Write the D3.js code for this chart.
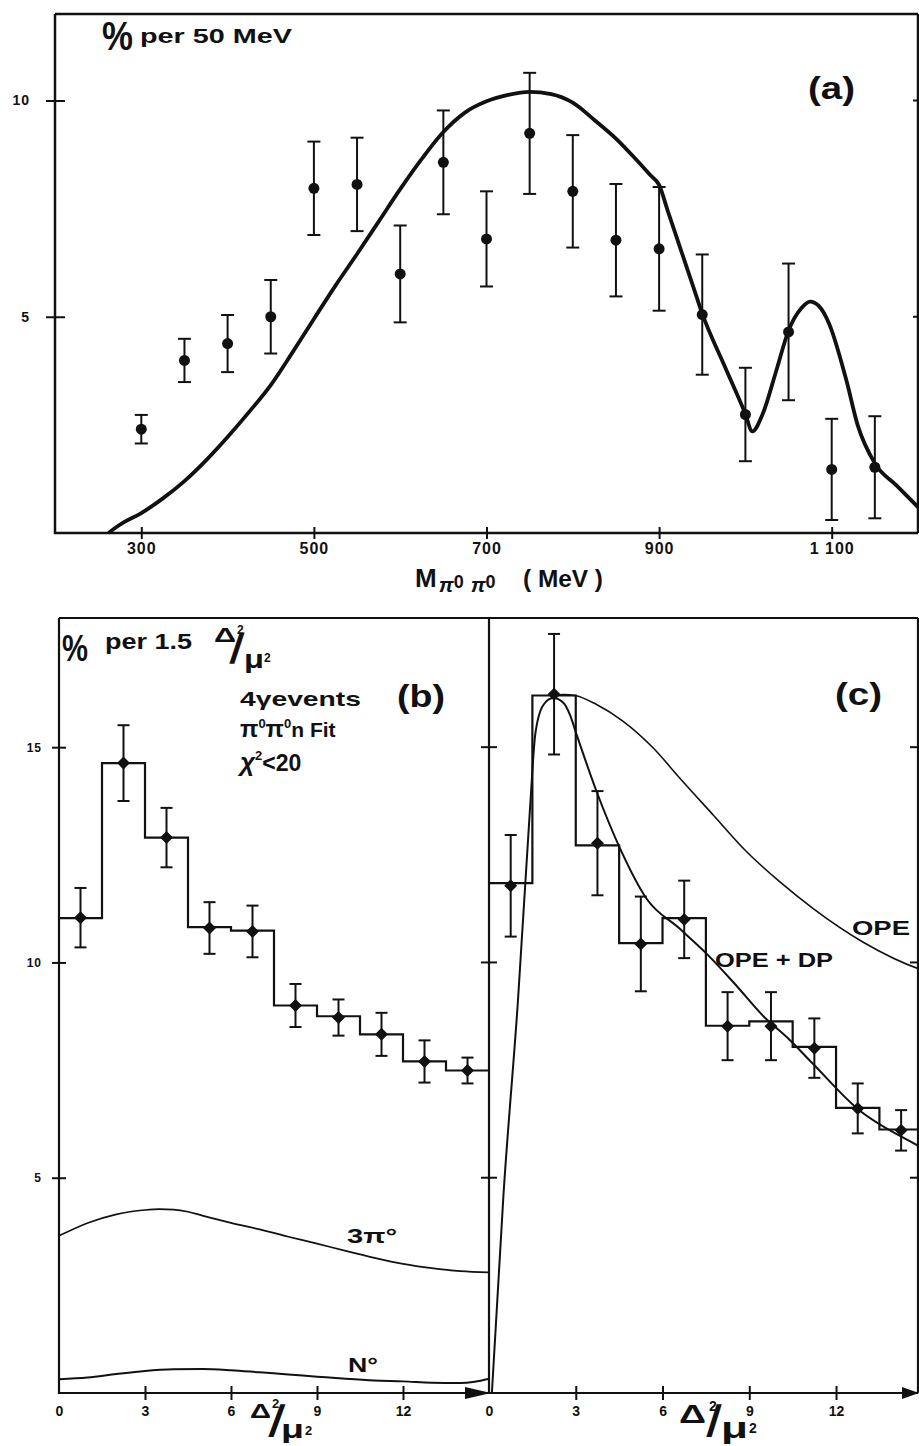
<!DOCTYPE html>
<html><head><meta charset="utf-8">
<script src="https://cdn.jsdelivr.net/npm/d3@7"></script>
<style>
body{margin:0;background:#fff}
svg{display:block}
text{font-family:"Liberation Sans",Arial,sans-serif;font-weight:bold;fill:#111}
</style></head><body>
<svg id="chart" width="919" height="1446"></svg>
<script>
// ---------------- Panel (a): M(pi0 pi0) spectrum ----------------
const massX   = [300,350,400,450,500,550,600,650,700,750,800,850,900,950,1000,1050,1100,1150];
const massPct = [2.40,3.99,4.38,5.00,7.97,8.06,5.99,8.57,6.80,9.24,7.90,6.77,6.57,5.05,2.74,4.65,1.47,1.52];
const massErr = [0.33,0.50,0.66,0.85,1.08,1.08,1.12,1.20,1.10,1.40,1.30,1.30,1.43,1.39,1.08,1.58,1.17,1.18];
const fitMassX = [262,270,280,300,325,350,375,400,425,450,475,500,525,550,575,600,625,650,675,700,725,750,775,800,825,850,875,890,900,910,925,940,950,975,1000,1008,1020,1035,1050,1065,1075,1085,1097,1117,1130,1150,1175,1200];
const fitMassY = [0,0.12,0.25,0.46,0.8,1.2,1.68,2.22,2.8,3.42,4.17,4.95,5.72,6.45,7.2,7.95,8.65,9.27,9.72,9.98,10.13,10.2,10.15,9.95,9.55,9.12,8.6,8.27,8.05,7.45,6.56,5.67,5.07,3.9,2.75,2.35,2.75,3.7,4.68,5.2,5.35,5.25,4.84,3.53,2.5,1.61,1.1,0.6];
const massTicks = [300,500,700,900,1100];
const massTickLabels = ["300","500","700","900","1 100"];
const pctTicksA = [5,10];

// ---------------- Panels (b),(c): Delta^2/mu^2 ----------------
const binEdges = [0,1.5,3,4.5,6,7.5,9,10.5,12,13.5,15];
const binMid   = [0.75,2.25,3.75,5.25,6.75,8.25,9.75,11.25,12.75,14.25];
const histB = [11.03,14.63,12.90,10.82,10.74,9.00,8.75,8.33,7.70,7.49];
const ptsB  = [11.04,14.63,12.90,10.80,10.72,9.00,8.72,8.33,7.70,7.49];
const errB  = [0.69,0.88,0.69,0.60,0.60,0.50,0.42,0.50,0.49,0.30];
const threePiX = [0,1,2,3,3.5,4,4.5,5,6,7,8,9,10,11,12,13,14,15];
const threePiY = [3.65,3.95,4.15,4.25,4.27,4.26,4.21,4.12,3.95,3.8,3.63,3.47,3.3,3.14,3.0,2.9,2.83,2.8];
const nStarX = [0,1,2,3,4,5,6,7,8,9,10,11,12,13,14,14.5,15];
const nStarY = [0.32,0.36,0.44,0.51,0.55,0.56,0.53,0.48,0.43,0.38,0.33,0.29,0.27,0.24,0.23,0.26,0.33];

const histC = [11.84,16.20,12.72,10.45,11.03,8.53,8.63,8.04,6.62,6.12];
const ptsC  = [11.78,16.23,12.77,10.43,11.00,8.52,8.52,8.01,6.61,6.10];
const errC  = [1.18,1.40,1.21,1.10,0.90,0.79,0.79,0.69,0.58,0.47];
const opeX = [2.22,2.6,2.97,3.72,4.64,5.68,6.6,7.76,8.91,10.06,11.21,12.94,14.87,15];
const opeY = [16.2,16.22,16.2,15.99,15.6,14.98,14.28,13.42,12.57,11.87,11.25,10.47,9.85,9.82];
const opeDpX = [0.1,0.5,1.0,1.42,1.6,1.88,2.22,2.57,2.8,3.03,3.72,4.53,5.45,6.6,7.53,8.45,9.49,10.4,11.21,12.71,14.87,15];
const opeDpY = [0,4.6,9.1,13.6,15.3,15.98,16.14,16.03,15.75,15.29,13.97,12.65,11.48,10.78,10.2,9.54,8.75,8.2,7.64,6.62,5.73,5.68];
const tTicks = [0,3,6,9,12];
const pctTicksBC = [5,10,15];

// ---------------- drawing ----------------
const INK = "#111";
const svg = d3.select("#chart");

const xA = d3.scaleLinear().domain([200,1200]).range([55,918]);
const yA = d3.scaleLinear().domain([0,12]).range([533,14]);
const xB = d3.scaleLinear().domain([0,15]).range([59,489]);
const xC = d3.scaleLinear().domain([0,15]).range([489,922.8]);
const yBC = d3.scaleLinear().domain([0,18]).range([1393,618]);

function txt(g, x, y, s, size, extra) {
  const t = g.append("text").attr("x", x).attr("y", y).attr("font-size", size).text(s);
  if (extra) Object.entries(extra).forEach(([k,v]) => t.attr(k, v));
  return t;
}
const fit = w => ({"textLength": w, "lengthAdjust": "spacingAndGlyphs"});
function slash(g, x, y, size, skew) {
  return g.append("text").attr("transform",`translate(${x},${y}) skewX(${-skew})`)
    .attr("font-family","DejaVu Sans").attr("font-weight","normal").attr("font-size",size).text("/");
}
function errBars(g, xs, ys, es, xs_, ys_, cap, sw) {
  const grp = g.append("g").attr("stroke", INK).attr("stroke-width", sw);
  xs.forEach((xv,i) => {
    const x = xs_(xv), y1 = ys_(ys[i]-es[i]), y2 = ys_(ys[i]+es[i]);
    grp.append("line").attr("x1",x).attr("x2",x).attr("y1",y1).attr("y2",y2);
    grp.append("line").attr("x1",x-cap).attr("x2",x+cap).attr("y1",y1).attr("y2",y1);
    grp.append("line").attr("x1",x-cap).attr("x2",x+cap).attr("y1",y2).attr("y2",y2);
  });
}

// ===== Panel (a)
const gA = svg.append("g");
gA.append("path")
  .attr("d", `M${xA(200)},${yA(12)}H${xA(1200)}M${xA(200)},${yA(12)}V${yA(0)}H${xA(1200)}M${xA(1200)},${yA(12)}V${yA(0)}`)
  .attr("fill","none").attr("stroke",INK).attr("stroke-width",2.5);

const axAx = d3.axisBottom(xA).tickValues(massTicks).tickFormat((d,i)=>massTickLabels[i])
  .tickSizeInner(6).tickSizeOuter(0).tickPadding(4);
gA.append("g").attr("transform",`translate(0,${yA(0)})`).call(axAx)
  .call(g=>{g.select(".domain").remove();
    g.attr("font-family",null).attr("font-size",16);
    g.selectAll(".tick line").attr("y1",-6).attr("y2",6).attr("stroke",INK).attr("stroke-width",2);
    g.selectAll(".tick text").attr("fill",INK).attr("letter-spacing",1);});
const axAy = d3.axisLeft(yA).tickValues(pctTicksA).tickSizeInner(9).tickSizeOuter(0).tickPadding(16);
gA.append("g").attr("transform",`translate(${xA(200)},0)`).call(axAy)
  .call(g=>{g.select(".domain").remove();
    g.attr("font-family",null).attr("font-size",14);
    g.selectAll(".tick line").attr("x1",-9).attr("x2",10).attr("stroke",INK).attr("stroke-width",2);
    g.selectAll(".tick text").attr("fill",INK).attr("letter-spacing",1);});
gA.append("g").selectAll("line").data(pctTicksA).join("line")
  .attr("x1",xA(1200)-5).attr("x2",xA(1200)).attr("y1",d=>yA(d)).attr("y2",d=>yA(d))
  .attr("stroke",INK).attr("stroke-width",2);

const lineA = d3.line().x((d,i)=>xA(fitMassX[i])).y(d=>yA(d)).curve(d3.curveMonotoneX);
gA.append("path").datum(fitMassY).attr("d",lineA).attr("fill","none").attr("stroke",INK)
  .attr("stroke-width",3.8).attr("stroke-linejoin","round");

errBars(gA, massX, massPct, massErr, xA, yA, 6.5, 2);
gA.append("g").selectAll("circle").data(massPct).join("circle")
  .attr("cx",(d,i)=>xA(massX[i])).attr("cy",d=>yA(d)).attr("r",5.5).attr("fill",INK);

txt(gA, 102, 50, "%", 40, Object.assign({"font-weight":"normal"}, fit(31)));
txt(gA, 140, 43, "per 50 MeV", 20, fit(152));
txt(gA, 808, 99, "(a)", 31, fit(47));
const tM = txt(gA, 415, 587, "M", 26, {});
tM.append("tspan").attr("font-size",21).attr("font-style","italic").attr("dy",5).attr("dx",2).text("π");
tM.append("tspan").attr("font-size",18).attr("dy",-4).text("0");
tM.append("tspan").attr("font-size",21).attr("font-style","italic").attr("dy",4).attr("dx",7).text("π");
tM.append("tspan").attr("font-size",18).attr("dy",-4).text("0");
txt(gA, 523, 587, "( MeV )", 24, fit(80));

// ===== Panels (b) and (c) frames
const gB = svg.append("g");
gB.append("path")
  .attr("d", `M${xB(0)},${yBC(18)}H918M${xB(0)},${yBC(18)}V${yBC(0)}H${xB(15)}M${xC(0)},${yBC(18)}V${yBC(0)}H918M918,${yBC(18)}V${yBC(0)}`)
  .attr("fill","none").attr("stroke",INK).attr("stroke-width",2.2);
gB.append("path").attr("d",`M${xB(15)-24},${yBC(0)-6}L${xB(15)+2},${yBC(0)}L${xB(15)-24},${yBC(0)+6}Z`).attr("fill",INK);
gB.append("path").attr("d",`M${919-17},${yBC(0)-6}L919,${yBC(0)}L${919-17},${yBC(0)+6}Z`).attr("fill",INK);

function xAxisT(g, sc) {
  const ax = d3.axisBottom(sc).tickValues(tTicks).tickSizeInner(7).tickSizeOuter(0).tickPadding(6);
  g.append("g").attr("transform",`translate(0,${yBC(0)})`).call(ax)
    .call(g=>{g.select(".domain").remove();
      g.attr("font-family",null).attr("font-size",14);
      g.selectAll(".tick line").attr("y1",d=>d===0?0:-7).attr("y2",d=>d===0?0:7).attr("stroke",INK).attr("stroke-width",2);
      g.selectAll(".tick text").attr("fill",INK);});
}
xAxisT(gB, xB); xAxisT(gB, xC);
const axBy = d3.axisLeft(yBC).tickValues(pctTicksBC).tickSizeInner(7).tickSizeOuter(0).tickPadding(10);
gB.append("g").attr("transform",`translate(${xB(0)},0)`).call(axBy)
  .call(g=>{g.select(".domain").remove();
    g.attr("font-family",null).attr("font-size",12);
    g.selectAll(".tick line").attr("x1",-7).attr("x2",7).attr("stroke",INK).attr("stroke-width",2);
    g.selectAll(".tick text").attr("fill",INK).attr("letter-spacing",1);});
[[xB(15)-8,xB(15)],[xC(0),xC(0)+8],[910,918]].forEach(([a,b])=>{
  gB.append("g").selectAll("line").data(pctTicksBC).join("line")
    .attr("x1",a).attr("x2",b).attr("y1",d=>yBC(d)).attr("y2",d=>yBC(d))
    .attr("stroke",INK).attr("stroke-width",2);
});

function histo(g, sc, vals) {
  const pts = vals.map((v,i)=>[binEdges[i],v]).concat([[15, vals[vals.length-1]]]);
  const ln = d3.line().x(d=>sc(d[0])).y(d=>yBC(d[1])).curve(d3.curveStepAfter);
  g.append("path").datum(pts).attr("d",ln).attr("fill","none").attr("stroke",INK).attr("stroke-width",2.2);
}
function curve(g, sc, xs, ys, w) {
  const ln = d3.line().x((d,i)=>sc(xs[i])).y(d=>yBC(d)).curve(d3.curveMonotoneX);
  g.append("path").datum(ys).attr("d",ln).attr("fill","none").attr("stroke",INK).attr("stroke-width",w);
}
function diamonds(g, sc, ys) {
  g.append("g").selectAll("path").data(ys).join("path")
    .attr("d",(d,i)=>{const x=sc(binMid[i]), y=yBC(d), r=6.5; return `M${x},${y-r}L${x+r},${y}L${x},${y+r}L${x-r},${y}Z`;})
    .attr("fill",INK);
}

// (b)
histo(gB, xB, histB);
curve(gB, xB, threePiX, threePiY, 1.7);
curve(gB, xB, nStarX, nStarY, 2);
errBars(gB, binMid, ptsB, errB, xB, yBC, 6, 2);
diamonds(gB, xB, ptsB);

// (c)
const gC = svg.append("g");
gC.append("clipPath").attr("id","clipC").append("rect").attr("x",488).attr("y",610).attr("width",431).attr("height",790);
const gCc = gC.append("g").attr("clip-path","url(#clipC)");
histo(gCc, xC, histC);
curve(gCc, xC, opeX, opeY, 1.6);
curve(gCc, xC, opeDpX, opeDpY, 2);
errBars(gCc, binMid, ptsC, errC, xC, yBC, 6, 2);
diamonds(gCc, xC, ptsC);

// texts (b)
txt(gB, 62, 661, "%", 36, Object.assign({"font-weight":"normal"}, fit(26)));
txt(gB, 105, 649, "per 1.5", 22, fit(87));
txt(gB, 214, 642, "Δ", 20, Object.assign({"font-weight":"normal"}, fit(22)));
txt(gB, 237, 634, "2", 12, {});
slash(gB, 229, 663, 42, 8);
txt(gB, 244, 668, "μ", 26, fit(20));
txt(gB, 264, 662, "2", 12, {});

txt(gB, 240, 706, "4γevents", 21, fit(121));
const tPi = txt(gB, 240, 737, "π", 24, {});
tPi.append("tspan").attr("font-size",13).attr("dy",-9).text("0");
tPi.append("tspan").attr("font-size",24).attr("dy",9).text("π");
tPi.append("tspan").attr("font-size",13).attr("dy",-9).text("0");
tPi.append("tspan").attr("font-size",21).attr("dy",9).text("n Fit");
const tChi = txt(gB, 240, 771, "χ", 26, {"font-style":"italic"});
tChi.append("tspan").attr("font-size",13).attr("dy",-11).attr("font-style","normal").text("2");
tChi.append("tspan").attr("font-size",23).attr("dy",11).attr("font-style","normal").text("<20");
txt(gB, 397, 707, "(b)", 32, fit(48));

txt(gB, 347, 1243, "3π°", 20, fit(50));
txt(gB, 348, 1372, "N°", 20, fit(30));

txt(gB, 250, 1418, "Δ", 21, Object.assign({"font-weight":"normal"}, fit(21)));
txt(gB, 272, 1408, "2", 13, {});
slash(gB, 268, 1436, 44, 10);
txt(gB, 281, 1438, "μ", 26, fit(23));
txt(gB, 305, 1435, "2", 13, {});

// texts (c)
txt(gC, 679, 1423, "Δ", 25, Object.assign({"font-weight":"normal"}, fit(27)));
txt(gC, 709, 1411, "2", 14, {});
slash(gC, 706, 1436, 44, 7);
txt(gC, 721, 1438, "μ", 29, fit(27));
txt(gC, 749, 1433, "2", 14, {});
txt(gC, 835, 705, "(c)", 32, fit(47));
txt(gC, 852, 935, "OPE", 20, fit(58));
txt(gC, 715, 967, "OPE + DP", 20, fit(118));
</script>
</body></html>
